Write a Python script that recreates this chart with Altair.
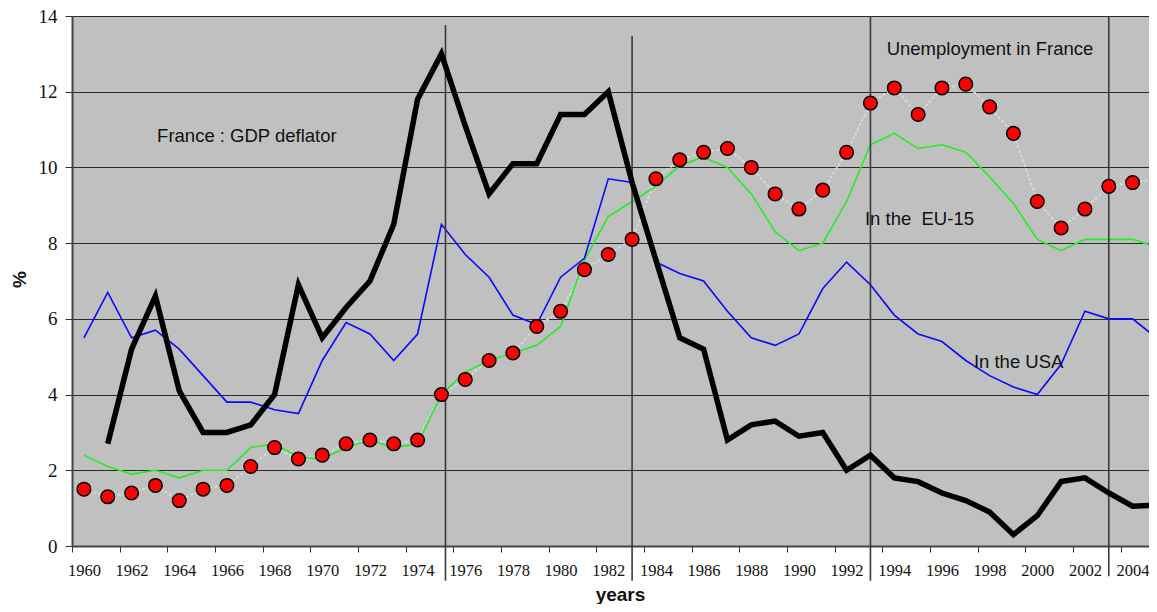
import altair as alt
import pandas as pd
import numpy as np

years = list(range(1960, 2006))

deflator_france = [None, 2.7, 5.2, 6.6, 4.1, 3.0, 3.0, 3.2, 4.0, 6.9,
                   5.5, 6.3, 7.0, 8.5, 11.8, 13.0, 11.1, 9.3, 10.1, 10.1,
                   11.4, 11.4, 12.0, 9.6, 7.55, 5.5, 5.2, 2.8, 3.2, 3.3,
                   2.9, 3.0, 2.0, 2.4, 1.8, 1.7, 1.4, 1.2, 0.9, 0.3,
                   0.8, 1.7, 1.8, 1.4, 1.05, 1.08]

unemp_usa = [5.5, 6.7, 5.5, 5.7, 5.2, 4.5, 3.8, 3.8, 3.6, 3.5,
             4.9, 5.9, 5.6, 4.9, 5.6, 8.5, 7.7, 7.1, 6.1, 5.85,
             7.1, 7.6, 9.7, 9.6, 7.5, 7.2, 7.0, 6.2, 5.5, 5.3,
             5.6, 6.8, 7.5, 6.9, 6.1, 5.6, 5.4, 4.9, 4.5, 4.2,
             4.0, 4.8, 6.2, 6.0, 6.0, 5.5]

unemp_eu15 = [2.4, 2.1, 1.9, 2.0, 1.8, 2.0, 2.0, 2.6, 2.7, 2.35,
              2.3, 2.6, 2.8, 2.6, 2.7, 4.0, 4.6, 4.9, 5.1, 5.3,
              5.8, 7.55, 8.7, 9.1, 9.5, 10.05, 10.27, 10.0, 9.3, 8.3,
              7.8, 8.0, 9.1, 10.6, 10.9, 10.5, 10.6, 10.4, 9.75, 9.05,
              8.1, 7.8, 8.1, 8.1, 8.1, 7.9]

unemp_france = [1.5, 1.3, 1.4, 1.6, 1.2, 1.5, 1.6, 2.1, 2.6, 2.3,
                2.4, 2.7, 2.8, 2.7, 2.8, 4.0, 4.4, 4.9, 5.1, 5.8,
                6.2, 7.3, 7.7, 8.1, 9.7, 10.2, 10.4, 10.5, 10.0, 9.3,
                8.9, 9.4, 10.4, 11.7, 12.1, 11.4, 12.1, 12.2, 11.6, 10.9,
                9.1, 8.4, 8.9, 9.5, 9.6, 9.7]

rule_years = [1975.17, 1983, 1993, 2003]
rule_tops = [13.76, 13.47, 14.0, 14.0]
rule_bottoms = [-0.92, -0.92, -0.92, -0.80]

label_texts = ["France : GDP deflator", "Unemployment in France", "In the\u00a0 EU-15", "In the USA"]
label_x = [1963.07, 1993.68, 1992.77, 1997.34]
label_y = [10.83, 13.13, 8.64, 4.86]

y_ticks = [0, 2, 4, 6, 8, 10, 12, 14]
x_boundaries = [y - 0.5 for y in years]

df = pd.DataFrame({
    "year": years,
    "deflator": [np.nan if v is None else v for v in deflator_france],
    "usa": unemp_usa,
    "eu15": unemp_eu15,
    "france": unemp_france,
})
rules_df = pd.DataFrame({"year": rule_years, "top": rule_tops, "bottom": rule_bottoms})
labels_df = pd.DataFrame({"text": label_texts, "x": label_x, "y": label_y})

PLOT_W = 1077
PX_PER_YEAR = 23.834
X_DOMAIN = [1959.5, 1959.5 + PLOT_W / PX_PER_YEAR]
xscale = alt.Scale(domain=X_DOMAIN, nice=False, zero=False)
yscale = alt.Scale(domain=[0, 14], nice=False, zero=False)

x_axis = alt.Axis(
    values=x_boundaries[:-1],
    labelExpr="(datum.value + 0.5) % 2 == 0 ? format(datum.value + 0.5, 'd') : ''",
    labelOffset=11.9,
    labelOverlap=False,
    labelBound=False,
    labelFlush=False,
    labelFont="Liberation Serif",
    labelFontSize=16.5,
    labelColor="#111",
    labelBaseline="middle",
    labelPadding=18,
    tickSize=6,
    tickColor="#333",
    tickWidth=1,
    domainColor="#444",
    domainWidth=2,
    grid=False,
    title="years",
    titleFont="Liberation Sans",
    titleFontSize=19,
    titleFontWeight="bold",
    titleColor="#111",
    titleX=548,
    titleY=54,
    titleBaseline="alphabetic",
)

y_axis = alt.Axis(
    values=y_ticks,
    labelFont="Liberation Serif",
    labelFontSize=19,
    labelColor="#111",
    labelPadding=8,
    tickSize=7,
    tickColor="#333",
    domainColor="#444",
    domainWidth=2,
    grid=True,
    gridColor="#2a2a2a",
    gridWidth=1,
    title="%",
    titleFont="Liberation Sans",
    titleFontSize=19,
    titleFontWeight="bold",
    titleColor="#111",
    titleX=-53,
    titleY=263,
    titleAngle=-90,
    titleAlign="center",
    titleBaseline="middle",
)

base = alt.Chart(df)

axes_layer = base.mark_line(opacity=0).encode(
    x=alt.X("year:Q", scale=xscale, axis=x_axis),
    y=alt.Y("usa:Q", scale=yscale, axis=y_axis),
)

unemp_link = base.mark_line(color="#d9d9d9", strokeWidth=2, strokeDash=[3, 2], clip=True).encode(
    x=alt.X("year:Q", scale=xscale), y=alt.Y("france:Q", scale=yscale)
)
eu_line = base.mark_line(color="#22ee22", strokeWidth=1.6, clip=True).encode(
    x=alt.X("year:Q", scale=xscale), y=alt.Y("eu15:Q", scale=yscale)
)
usa_line = base.mark_line(color="#0a0aff", strokeWidth=1.6, clip=True).encode(
    x=alt.X("year:Q", scale=xscale), y=alt.Y("usa:Q", scale=yscale)
)
defl_line = base.mark_line(color="#000000", strokeWidth=5.5, clip=True).encode(
    x=alt.X("year:Q", scale=xscale), y=alt.Y("deflator:Q", scale=yscale)
)
dots = base.mark_point(filled=True, fill="#ff0000", stroke="#000000", strokeWidth=1.5,
                       size=185, opacity=1, shape="circle", clip=True).encode(
    x=alt.X("year:Q", scale=xscale), y=alt.Y("france:Q", scale=yscale)
)
rules = alt.Chart(rules_df).mark_rule(color="#3a3a3a", strokeWidth=1.6).encode(
    x=alt.X("year:Q", scale=xscale),
    y=alt.Y("top:Q", scale=yscale),
    y2="bottom:Q",
)
labels = alt.Chart(labels_df).mark_text(
    align="left", baseline="middle", font="Liberation Sans", fontSize=18.5, color="#111"
).encode(
    x=alt.X("x:Q", scale=xscale),
    y=alt.Y("y:Q", scale=yscale),
    text="text:N",
)

chart = alt.layer(
    axes_layer, unemp_link, eu_line, usa_line, rules, dots, defl_line, labels
).properties(
    width=PLOT_W,
    height=530,
    autosize=alt.AutoSizeParams(type="none"),
    padding={"left": 64, "top": 8, "right": 0, "bottom": 58},
    background="white",
).configure_view(
    fill="#c0c0c0",
    stroke="#8a8a8a",
    strokeWidth=1,
)

chart.save("out.html", embed_options={"renderer": "svg", "actions": False})
